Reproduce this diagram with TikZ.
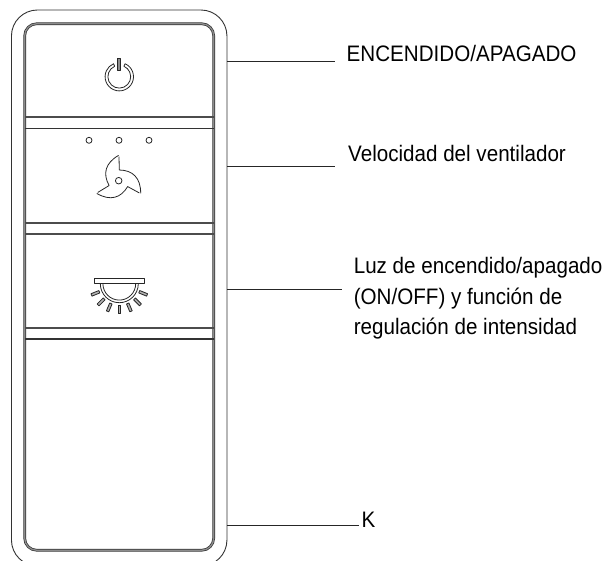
\documentclass[tikz,border=0pt]{standalone}
\usepackage{fontspec}
\setmainfont[FakeStretch=0.92]{Liberation Sans}
\usetikzlibrary{calc}

\tikzset{
    shell/.style={draw=black!80, line width=0.9pt, rounded corners=26pt, minimum width=215.5pt, minimum height=556pt, inner sep=0pt, outer sep=0pt},
    keyedge/.style={draw=black!80, line width=0.7pt, double=black!45, double distance=1.3pt, rounded corners=12pt, minimum width=189pt, minimum height=526.5pt, inner sep=0pt, outer sep=0pt},
    band/.style={draw=black!70, line width=2.4pt},
    thinband/.style={draw=black!80, line width=1.6pt},
    leader/.style={draw=black!85, line width=0.8pt},
    icon/.style={draw=black!85, line width=0.8pt, line join=round},
    legend/.style={anchor=base west, inner sep=0pt, font=\fontsize{22.4}{22.4}\selectfont}
}

\begin{document}
\begin{tikzpicture}[x=1pt, y=-1pt]
    \useasboundingbox (0,0) rectangle (608,561);

    \node [shell] (shell) at (119.2,288) {};
    \node [keyedge] (key) at (119.2,287) {};

    \coordinate (P) at (119.3,76.7);
    \coordinate (F) at (118.7,180.7);
    \coordinate (L) at (119.3,283.7);

    % bands between the keys
    \draw [band] (key.west |- 0,117) -- (key.east |- 0,117);
    \draw [thinband] (key.west |- 0,128.5) -- (key.east |- 0,128.5);
    \draw [band] (key.west |- 0,223) -- (key.east |- 0,223);
    \draw [band] (key.west |- 0,234) -- (key.east |- 0,234);
    \draw [band] (key.west |- 0,328) -- (key.east |- 0,328);
    \draw [thinband] (key.west |- 0,339) -- (key.east |- 0,339);

    % power
    \draw [icon] ($(P)+(-66:14.2)$) arc [start angle=-66, end angle=246, radius=14.2]
        -- ($(P)+(246:11.4)$) arc [start angle=246, end angle=-66, radius=11.4] -- cycle;
    \draw [icon, fill=black!45] ($(P)+(-1.5,-18)$) rectangle ($(P)+(1.5,-6.5)$);

    % fan
    \foreach \x in {89,119,149}
        \draw [icon] (\x,140.3) circle (3);
    \draw [icon] (F) circle (3.3);
    \foreach \a in {0,120,240}
        \draw [icon, shift={(F)}, rotate=-\a] (0.3,-24) -- (0.6,-10.7)
            .. controls (14,-10.5) and (22,-3) .. (22,12.6);

    % lamp
    \draw [icon] (94.3,278.3) rectangle (144.3,283.7);
    \draw [icon] ($(L)+(19,0)$) arc [start angle=0, end angle=180, radius=19];
    \draw [icon] ($(L)+(16.4,0)$) arc [start angle=0, end angle=180, radius=16.4];
    \foreach \a in {22,45,67,90,113,135,158}
        \draw [icon, fill=black!30, shift={(L)}, rotate=-\a] (21.5,-1.3) rectangle (30,1.3);

    % labels
    \node [legend] (power) at (346.5,62) {ENCENDIDO/APAGADO};
    \node [legend] (speed) at (348,162) {Velocidad del ventilador};
    \node [legend] (light1) at (353.6,273.3) {Luz de encendido/apagado};
    \node [legend] (light2) at (353.6,304.5) {(ON/OFF) y función de};
    \node [legend] (light3) at (353.6,335) {regulación de intensidad};
    \node [legend] (kay) at (361.5,527.7) {K};

    \coordinate (A0) at (335,61.7);
    \coordinate (A1) at (335,166.7);
    \coordinate (A2) at (341.7,289.5);
    \coordinate (A3) at (359,525.5);

    \draw [leader] (shell.east |- A0) -- (A0);
    \draw [leader] (shell.east |- A1) -- (A1);
    \draw [leader] (shell.east |- A2) -- (A2);
    \draw [leader] (shell.east |- A3) -- (A3);
\end{tikzpicture}
\end{document}
